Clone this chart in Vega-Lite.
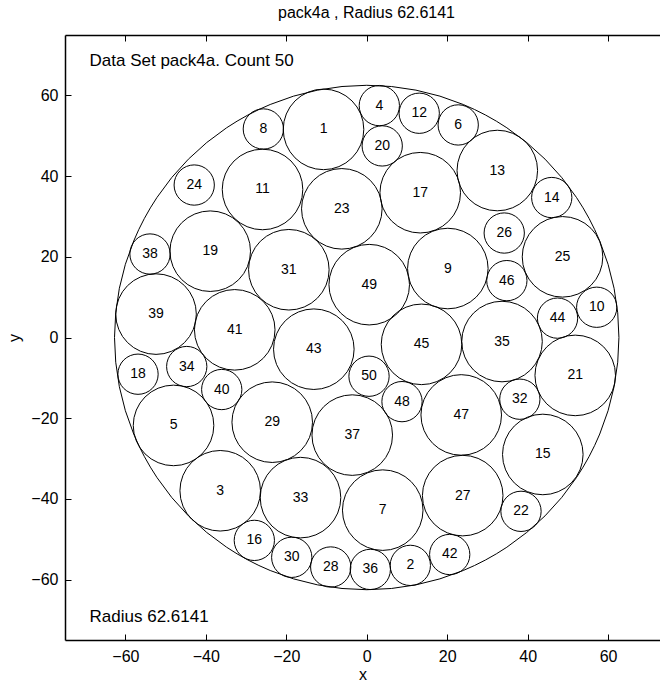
{
  "$schema": "https://vega.github.io/schema/vega-lite/v6.json",
  "width": 595,
  "height": 605,
  "autosize": {"type": "none"},
  "padding": {"left": 65, "top": 35, "right": 0, "bottom": 50},
  "background": "white",
  "title": {
    "text": "pack4a , Radius 62.6141",
    "fontSize": 16,
    "fontWeight": "normal",
    "font": "Liberation Sans",
    "color": "black",
    "anchor": "middle",
    "offset": 14,
    "dx": 4
  },
  "config": {
    "view": {"stroke": null},
    "font": "Liberation Sans",
    "axis": {
      "grid": false,
      "domainColor": "black",
      "domainWidth": 1.5,
      "tickColor": "black",
      "tickWidth": 1,
      "tickSize": -6,
      "labelColor": "black",
      "labelFont": "Liberation Sans",
      "labelFontSize": 16,
      "titleFont": "Liberation Sans",
      "titleFontSize": 16,
      "titleFontWeight": "normal",
      "titleColor": "black"
    }
  },
  "datasets": {
    "circles": [
      {"id": 1, "x": -10.74, "y": 51.6, "r": 10},
      {"id": 2, "x": 10.84, "y": -56.5, "r": 5},
      {"id": 3, "x": -36.42, "y": -38.0, "r": 10},
      {"id": 4, "x": 3.13, "y": 57.5, "r": 5},
      {"id": 5, "x": -48.02, "y": -21.8, "r": 10},
      {"id": 6, "x": 22.74, "y": 52.7, "r": 5},
      {"id": 7, "x": 3.98, "y": -42.8, "r": 10},
      {"id": 8, "x": -25.7, "y": 51.7, "r": 5},
      {"id": 9, "x": 20.16, "y": 17.1, "r": 10},
      {"id": 10, "x": 57.17, "y": 7.5, "r": 5},
      {"id": 11, "x": -25.9, "y": 36.7, "r": 10},
      {"id": 12, "x": 13.05, "y": 55.6, "r": 5},
      {"id": 13, "x": 32.46, "y": 41.4, "r": 10},
      {"id": 14, "x": 45.99, "y": 34.7, "r": 5},
      {"id": 15, "x": 43.77, "y": -29.0, "r": 10},
      {"id": 16, "x": -27.94, "y": -50.3, "r": 5},
      {"id": 17, "x": 13.3, "y": 35.9, "r": 10},
      {"id": 18, "x": -56.85, "y": -9.1, "r": 5},
      {"id": 19, "x": -38.9, "y": 21.4, "r": 10},
      {"id": 20, "x": 3.85, "y": 47.5, "r": 5},
      {"id": 21, "x": 51.83, "y": -9.4, "r": 10},
      {"id": 22, "x": 38.35, "y": -43.1, "r": 5},
      {"id": 23, "x": -6.19, "y": 31.9, "r": 10},
      {"id": 24, "x": -42.88, "y": 37.8, "r": 5},
      {"id": 25, "x": 48.67, "y": 20.0, "r": 10},
      {"id": 26, "x": 34.18, "y": 25.9, "r": 5},
      {"id": 27, "x": 23.86, "y": -39.2, "r": 10},
      {"id": 28, "x": -8.95, "y": -56.9, "r": 5},
      {"id": 29, "x": -23.49, "y": -21.0, "r": 10},
      {"id": 30, "x": -18.64, "y": -54.5, "r": 5},
      {"id": 31, "x": -19.36, "y": 16.8, "r": 10},
      {"id": 32, "x": 38.06, "y": -15.3, "r": 5},
      {"id": 33, "x": -16.46, "y": -39.7, "r": 10},
      {"id": 34, "x": -44.74, "y": -7.2, "r": 5},
      {"id": 35, "x": 33.63, "y": -1.0, "r": 10},
      {"id": 36, "x": 0.89, "y": -57.5, "r": 5},
      {"id": 37, "x": -3.6, "y": -24.2, "r": 10},
      {"id": 38, "x": -53.87, "y": 20.7, "r": 5},
      {"id": 39, "x": -52.37, "y": 5.8, "r": 10},
      {"id": 40, "x": -36.04, "y": -12.9, "r": 5},
      {"id": 41, "x": -32.81, "y": 1.9, "r": 10},
      {"id": 42, "x": 20.63, "y": -53.8, "r": 5},
      {"id": 43, "x": -13.15, "y": -2.9, "r": 10},
      {"id": 44, "x": 47.43, "y": 4.8, "r": 5},
      {"id": 45, "x": 13.62, "y": -1.7, "r": 10},
      {"id": 46, "x": 34.83, "y": 14.1, "r": 5},
      {"id": 47, "x": 23.49, "y": -19.2, "r": 10},
      {"id": 48, "x": 8.77, "y": -15.9, "r": 5},
      {"id": 49, "x": 0.62, "y": 13.1, "r": 10},
      {"id": 50, "x": 0.57, "y": -9.6, "r": 5}
    ],
    "container": [
      {"x": 0, "y": 0, "r": 62.6141}
    ],
    "notes": [
      {"x": -68.9, "y": 67.4, "label": "Data Set pack4a. Count 50"},
      {"x": -68.9, "y": -70.5, "label": "Radius 62.6141"}
    ]
  },
  "resolve": {"axis": {"x": "independent", "y": "independent"}},
  "layer": [
    {
      "data": {"name": "container"},
      "mark": {"type": "point", "shape": "circle", "filled": false, "stroke": "black", "strokeWidth": 1, "opacity": 1},
      "encoding": {
        "x": {
          "field": "x", "type": "quantitative",
          "scale": {"domain": [-75, 72.9], "nice": false, "zero": false},
          "axis": {"orient": "bottom", "values": [-60, -40, -20, 0, 20, 40, 60], "title": "x", "labelPadding": 14, "titlePadding": 2}
        },
        "y": {
          "field": "y", "type": "quantitative",
          "scale": {"domain": [-75, 75], "nice": false, "zero": false},
          "axis": {"orient": "left", "values": [-60, -40, -20, 0, 20, 40, 60], "title": "y", "labelPadding": 13, "titlePadding": 8}
        },
        "size": {
          "field": "r", "type": "quantitative",
          "scale": {"type": "pow", "exponent": 2, "domain": [0, 10], "range": [0, 6490], "nice": false},
          "legend": null
        }
      }
    },
    {
      "data": {"name": "circles"},
      "mark": {"type": "point", "shape": "circle", "filled": false, "stroke": "black", "strokeWidth": 1, "opacity": 1},
      "encoding": {
        "x": {
          "field": "x", "type": "quantitative",
          "scale": {"domain": [-75, 72.9], "nice": false, "zero": false},
          "axis": {"orient": "top", "values": [-60, -40, -20, 0, 20, 40, 60], "labels": false, "title": null}
        },
        "y": {"field": "y", "type": "quantitative", "axis": null},
        "size": {
          "field": "r", "type": "quantitative",
          "scale": {"type": "pow", "exponent": 2, "domain": [0, 10], "range": [0, 6490], "nice": false},
          "legend": null
        }
      }
    },
    {
      "data": {"name": "circles"},
      "mark": {"type": "text", "fontSize": 14, "align": "center", "baseline": "middle", "color": "black"},
      "encoding": {
        "x": {"field": "x", "type": "quantitative", "axis": null},
        "y": {"field": "y", "type": "quantitative", "axis": null},
        "text": {"field": "id", "type": "nominal"}
      }
    },
    {
      "data": {"name": "notes"},
      "mark": {"type": "text", "fontSize": 17, "align": "left", "baseline": "alphabetic", "color": "black"},
      "encoding": {
        "x": {"field": "x", "type": "quantitative", "axis": null},
        "y": {"field": "y", "type": "quantitative", "axis": null},
        "text": {"field": "label", "type": "nominal"}
      }
    }
  ]
}
